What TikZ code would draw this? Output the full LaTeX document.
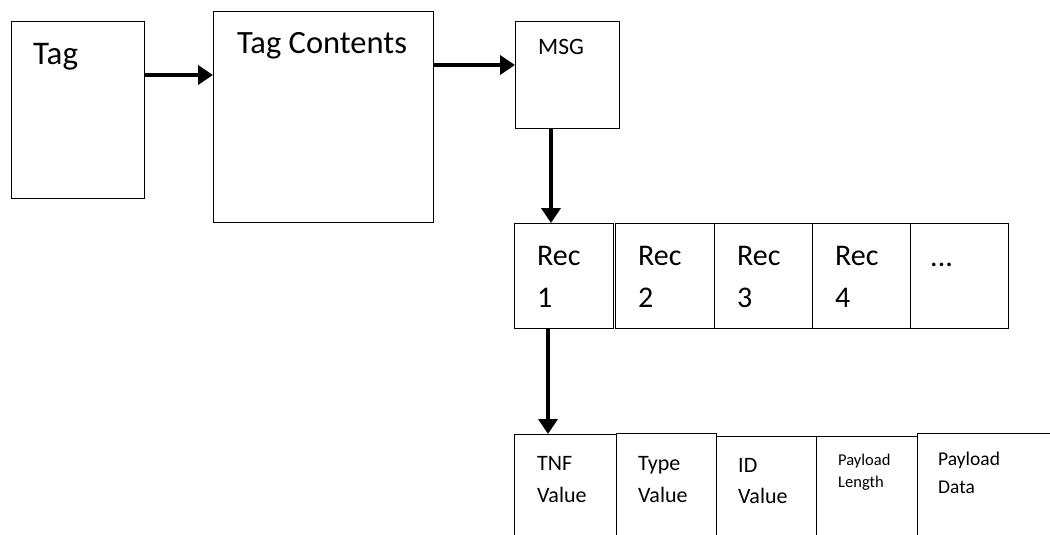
\documentclass[tikz,border=0pt]{standalone}
\usepackage{fontspec}
\setmainfont{Carlito}
\usetikzlibrary{arrows.meta}
\begin{document}
\begin{tikzpicture}[x=1pt,y=-1pt,
    box/.style={draw, line width=1.3pt, rectangle, inner sep=0pt, anchor=north west},
    flow/.style={line width=4.5pt, -{Triangle[length=15pt,width=19pt]}},
    lbl/.style={anchor=base west, inner sep=0pt, align=left}]
        \clip (0,0) rectangle (1050,535);
        \node[box, minimum width=133pt, minimum height=177pt] (tag) at (11,21) {};
        \node[box, minimum width=220pt, minimum height=211pt] (tagc) at (213,11) {};
        \node[box, minimum width=104pt, minimum height=107pt] (msg) at (515,21) {};
        \node[lbl, font=\fontsize{33}{37}\selectfont] (tagtxt) at (33,65) {Tag};
        \node[lbl, font=\fontsize{32.5}{37}\selectfont] (tagctxt) at (237,54) {Tag Contents};
        \node[lbl, font=\fontsize{23.5}{28}\selectfont] (msgtxt) at (538,55) {MSG};
        \foreach \n/\x/\w/\tx/\ty/\t in {1/514/99/537/307/{Rec\\1}, 2/615/99/638/307/{Rec\\2}, 3/714/98/737/307/{Rec\\3}, 4/812/98/835/307/{Rec\\4}, 5/910/98/930/266/{...}} {
            \node[box, minimum width=\w pt, minimum height=105pt] (rec\n) at (\x,223) {};
            \node[lbl, font=\fontsize{30}{42}\selectfont] (rectxt\n) at (\tx,\ty) {\t};
        }
        \node[box, minimum width=102pt, minimum height=150pt] (tnf) at (514,434) {};
        \node[box, minimum width=100pt, minimum height=150pt] (type) at (616,433) {};
        \node[box, minimum width=100pt, minimum height=150pt] (id) at (716,436) {};
        \node[box, minimum width=101pt, minimum height=150pt] (plen) at (816,436) {};
        \node[box, minimum width=150pt, minimum height=150pt] (pdata) at (917,433) {};
        \node[lbl, font=\fontsize{22}{32}\selectfont] (tnftxt) at (537,502) {TNF\\Value};
        \node[lbl, font=\fontsize{22}{32}\selectfont] (typetxt) at (638,502) {Type\\Value};
        \node[lbl, font=\fontsize{22}{31}\selectfont] (idtxt) at (738,503) {ID\\Value};
        \node[lbl, font=\fontsize{16.5}{22}\selectfont] (plentxt) at (838,487) {Payload\\Length};
        \node[lbl, font=\fontsize{19.5}{28}\selectfont] (pdatatxt) at (938,493) {Payload\\Data};
        \coordinate (a1) at ([yshift=-54pt]tag.north east);
        \coordinate (a2) at ([yshift=-54pt]tagc.north east);
        \coordinate (a3) at ([xshift=36pt]msg.south west);
        \coordinate (a4) at ([xshift=34pt]rec1.south west);
        \draw[flow] (a1) -- (a1 -| tagc.west);
        \draw[flow] (a2) -- (a2 -| msg.west);
        \draw[flow] (a3) -- (a3 |- rec1.north);
        \draw[flow] (a4) -- (a4 |- tnf.north);
    \end{tikzpicture}
\end{document}
